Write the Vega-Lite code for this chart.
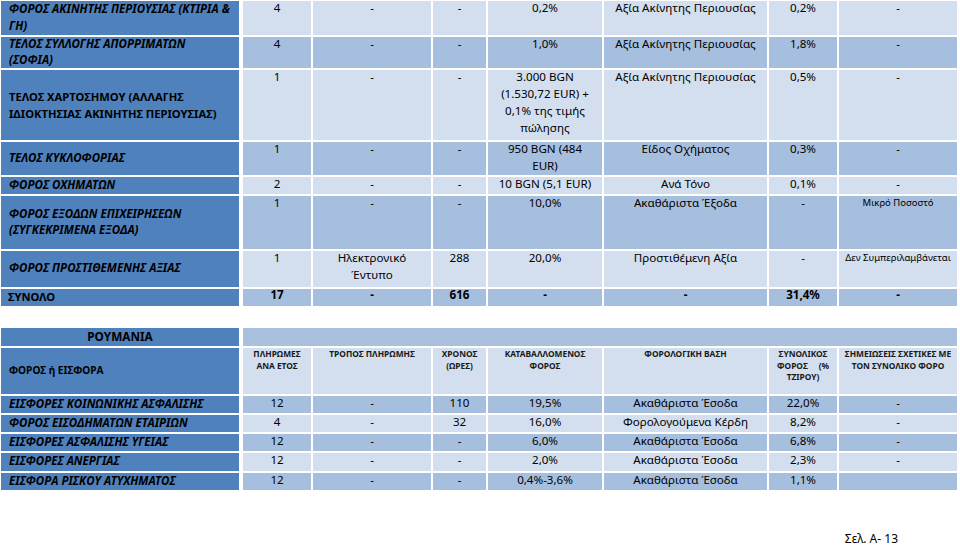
{
  "$schema": "https://vega.github.io/schema/vega-lite/v6.json",
  "width": 960,
  "height": 491,
  "autosize": {"type": "none"},
  "padding": {"left": 0, "top": 0, "right": 0, "bottom": 56},
  "background": "white",
  "config": {
    "view": {"stroke": null},
    "text": {"font": "Noto Sans", "lineBreak": "\n", "color": "#000000"}
  },
  "title": {
    "text": "Σελ. Α- 13",
    "orient": "bottom",
    "anchor": "end",
    "offset": 42,
    "dx": -62,
    "font": "Noto Sans",
    "fontSize": 12,
    "fontWeight": "normal",
    "color": "#000000"
  },
  "datasets": {
    "table": [
      {"r": 0, "label": "ΦΟΡΟΣ ΑΚΙΝΗΤΗΣ ΠΕΡΙΟΥΣΙΑΣ (ΚΤΙΡΙΑ &\nΓΗ)", "p": "4", "m": "-", "h": "-", "tax": "0,2%", "base": "Αξία Ακίνητης Περιουσίας", "total": "0,2%", "notes": "-"},
      {"r": 1, "label": "ΤΕΛΟΣ ΣΥΛΛΟΓΗΣ ΑΠΟΡΡΙΜΑΤΩΝ\n(ΣΟΦΙΑ)", "p": "4", "m": "-", "h": "-", "tax": "1,0%", "base": "Αξία Ακίνητης Περιουσίας", "total": "1,8%", "notes": "-"},
      {"r": 2, "label": "ΤΕΛΟΣ ΧΑΡΤΟΣΗΜΟΥ (ΑΛΛΑΓΗΣ\nΙΔΙΟΚΤΗΣΙΑΣ ΑΚΙΝΗΤΗΣ ΠΕΡΙΟΥΣΙΑΣ)", "p": "1", "m": "-", "h": "-", "tax": "3.000 BGN\n(1.530,72 EUR) +\n0,1% της τιμής\nπώλησης", "base": "Αξία Ακίνητης Περιουσίας", "total": "0,5%", "notes": "-"},
      {"r": 3, "label": "ΤΕΛΟΣ ΚΥΚΛΟΦΟΡΙΑΣ", "p": "1", "m": "-", "h": "-", "tax": "950 BGN (484\nEUR)", "base": "Είδος Οχήματος", "total": "0,3%", "notes": "-"},
      {"r": 4, "label": "ΦΟΡΟΣ ΟΧΗΜΑΤΩΝ", "p": "2", "m": "-", "h": "-", "tax": "10 BGN (5,1 EUR)", "base": "Ανά Τόνο", "total": "0,1%", "notes": "-"},
      {"r": 5, "label": "ΦΟΡΟΣ ΕΞΟΔΩΝ ΕΠΙΧΕΙΡΗΣΕΩΝ\n(ΣΥΓΚΕΚΡΙΜΕΝΑ ΕΞΟΔΑ)", "p": "1", "m": "-", "h": "-", "tax": "10,0%", "base": "Ακαθάριστα Έξοδα", "total": "-", "notes": "Μικρό Ποσοστό"},
      {"r": 6, "label": "ΦΟΡΟΣ ΠΡΟΣΤΙΘΕΜΕΝΗΣ ΑΞΙΑΣ", "p": "1", "m": "Ηλεκτρονικό\nΈντυπο", "h": "288", "tax": "20,0%", "base": "Προστιθέμενη Αξία", "total": "-", "notes": "Δεν Συμπεριλαμβάνεται"},
      {"r": 7, "label": "ΣΥΝΟΛΟ", "p": "17", "m": "-", "h": "616", "tax": "-", "base": "-", "total": "31,4%", "notes": "-"},
      {"r": 9, "label": "ΡΟΥΜΑΝΙΑ"},
      {"r": 10, "label": "ΦΟΡΟΣ ή ΕΙΣΦΟΡΑ", "p": "ΠΛΗΡΩΜΕΣ\nΑΝΑ ΕΤΟΣ", "m": "ΤΡΟΠΟΣ ΠΛΗΡΩΜΗΣ", "h": "ΧΡΟΝΟΣ\n(ΩΡΕΣ)", "tax": "ΚΑΤΑΒΑΛΛΟΜΕΝΟΣ\nΦΟΡΟΣ", "base": "ΦΟΡΟΛΟΓΙΚΗ ΒΑΣΗ", "total": "ΣΥΝΟΛΙΚΟΣ\nΦΟΡΟΣ\u00a0\u00a0\u00a0\u00a0\u00a0(%\nΤΖΙΡΟΥ)", "notes": "ΣΗΜΕΙΩΣΕΙΣ ΣΧΕΤΙΚΕΣ ΜΕ\nΤΟΝ ΣΥΝΟΛΙΚΟ ΦΟΡΟ"},
      {"r": 11, "label": "ΕΙΣΦΟΡΕΣ ΚΟΙΝΩΝΙΚΗΣ ΑΣΦΑΛΙΣΗΣ", "p": "12", "m": "-", "h": "110", "tax": "19,5%", "base": "Ακαθάριστα Έσοδα", "total": "22,0%", "notes": "-"},
      {"r": 12, "label": "ΦΟΡΟΣ ΕΙΣΟΔΗΜΑΤΩΝ ΕΤΑΙΡΙΩΝ", "p": "4", "m": "-", "h": "32", "tax": "16,0%", "base": "Φορολογούμενα Κέρδη", "total": "8,2%", "notes": "-"},
      {"r": 13, "label": "ΕΙΣΦΟΡΕΣ ΑΣΦΑΛΙΣΗΣ ΥΓΕΙΑΣ", "p": "12", "m": "-", "h": "-", "tax": "6,0%", "base": "Ακαθάριστα Έσοδα", "total": "6,8%", "notes": "-"},
      {"r": 14, "label": "ΕΙΣΦΟΡΕΣ ΑΝΕΡΓΙΑΣ", "p": "12", "m": "-", "h": "-", "tax": "2,0%", "base": "Ακαθάριστα Έσοδα", "total": "2,3%", "notes": "-"},
      {"r": 15, "label": "ΕΙΣΦΟΡΑ ΡΙΣΚΟΥ ΑΤΥΧΗΜΑΤΟΣ", "p": "12", "m": "-", "h": "-", "tax": "0,4%-3,6%", "base": "Ακαθάριστα Έσοδα", "total": "1,1%", "notes": ""}
    ]
  },
  "data": {"name": "table"},
  "layer": [
    {
      "transform": [{"calculate": "datum.r + 1", "as": "r2"}],
      "mark": {"type": "rect", "stroke": "white", "strokeWidth": 2},
      "encoding": {
        "x": {"datum": 0, "type": "quantitative", "axis": null, "scale": {"domain": [0,1,2,3,4,5,6,7,8,9], "range": [0,240,242,312,432,487,603,768,838,958], "zero": false, "nice": false}},
        "x2": {"datum": 1},
        "y": {"field": "r", "type": "quantitative", "axis": null, "scale": {"domain": [0,1,2,3,4,5,6,7,8,9,10,11,12,13,14,15,16], "range": [0,36,69,141,176,195,250,288,307,327,347,395,414,433,452,472,491], "zero": false, "nice": false}},
        "y2": {"field": "r2"},
        "color": {"value": "#4f81bd"}
      }
    },
    {
      "transform": [
        {"filter": "datum.r !== 9"},
        {"fold": ["p", "m", "h", "tax", "base", "total", "notes"], "as": ["key", "value"]},
        {"calculate": "indexof(['p','m','h','tax','base','total','notes'], datum.key) + 2", "as": "c"},
        {"calculate": "datum.c + 1", "as": "c2"},
        {"calculate": "datum.r + 1", "as": "r2"},
        {"calculate": "datum.r % 2 === 1 ? 'b' : 'a'", "as": "band"}
      ],
      "mark": {"type": "rect", "stroke": "white", "strokeWidth": 2},
      "encoding": {
        "x": {"field": "c", "type": "quantitative", "axis": null, "scale": {"domain": [0,1,2,3,4,5,6,7,8,9], "range": [0,240,242,312,432,487,603,768,838,958], "zero": false, "nice": false}},
        "x2": {"field": "c2"},
        "y": {"field": "r", "type": "quantitative", "axis": null, "scale": {"domain": [0,1,2,3,4,5,6,7,8,9,10,11,12,13,14,15,16], "range": [0,36,69,141,176,195,250,288,307,327,347,395,414,433,452,472,491], "zero": false, "nice": false}},
        "y2": {"field": "r2"},
        "color": {"field": "band", "type": "nominal", "legend": null, "scale": {"domain": ["a", "b"], "range": ["#d3dfee", "#a7bfde"]}}
      }
    },
    {
      "transform": [{"filter": "datum.r === 9"}, {"calculate": "datum.r + 1", "as": "r2"}],
      "mark": {"type": "rect", "stroke": "white", "strokeWidth": 2},
      "encoding": {
        "x": {"datum": 2, "type": "quantitative", "axis": null, "scale": {"domain": [0,1,2,3,4,5,6,7,8,9], "range": [0,240,242,312,432,487,603,768,838,958], "zero": false, "nice": false}},
        "x2": {"datum": 9},
        "y": {"field": "r", "type": "quantitative", "axis": null, "scale": {"domain": [0,1,2,3,4,5,6,7,8,9,10,11,12,13,14,15,16], "range": [0,36,69,141,176,195,250,288,307,327,347,395,414,433,452,472,491], "zero": false, "nice": false}},
        "y2": {"field": "r2"},
        "color": {"value": "#a9c0df"}
      }
    },
    {
      "transform": [{"filter": "indexof([0,1,3,4,5,6,11,12,13,14,15], datum.r) >= 0 && indexof(datum.label, '\\n') < 0"}, {"calculate": "datum.r + 0.5", "as": "rm"}],
      "mark": {"type": "text", "align": "left", "baseline": "middle", "dx": 9, "fontSize": 11.5, "fontWeight": "bold", "fontStyle": "italic", "lineHeight": 17},
      "encoding": {
        "x": {"datum": 0, "type": "quantitative", "axis": null, "scale": {"domain": [0,1,2,3,4,5,6,7,8,9], "range": [0,240,242,312,432,487,603,768,838,958], "zero": false, "nice": false}},
        "y": {"field": "rm", "type": "quantitative", "axis": null, "scale": {"domain": [0,1,2,3,4,5,6,7,8,9,10,11,12,13,14,15,16], "range": [0,36,69,141,176,195,250,288,307,327,347,395,414,433,452,472,491], "zero": false, "nice": false}},
        "text": {"field": "label", "type": "nominal"}
      }
    },
    {
      "transform": [{"filter": "indexof([0,1,3,4,5,6,11,12,13,14,15], datum.r) >= 0 && indexof(datum.label, '\\n') >= 0"}, {"calculate": "datum.r + 0.5", "as": "rm"}],
      "mark": {"type": "text", "align": "left", "baseline": "middle", "dx": 9, "dy": -8, "fontSize": 11.5, "fontWeight": "bold", "fontStyle": "italic", "lineHeight": 16.5},
      "encoding": {
        "x": {"datum": 0, "type": "quantitative", "axis": null, "scale": {"domain": [0,1,2,3,4,5,6,7,8,9], "range": [0,240,242,312,432,487,603,768,838,958], "zero": false, "nice": false}},
        "y": {"field": "rm", "type": "quantitative", "axis": null, "scale": {"domain": [0,1,2,3,4,5,6,7,8,9,10,11,12,13,14,15,16], "range": [0,36,69,141,176,195,250,288,307,327,347,395,414,433,452,472,491], "zero": false, "nice": false}},
        "text": {"field": "label", "type": "nominal"}
      }
    },
    {
      "transform": [{"filter": "datum.r === 2"}, {"calculate": "datum.r + 0.5", "as": "rm"}],
      "mark": {"type": "text", "align": "left", "baseline": "middle", "dx": 9, "dy": -7, "fontSize": 11.2, "fontWeight": "bold", "lineHeight": 17},
      "encoding": {
        "x": {"datum": 0, "type": "quantitative", "axis": null, "scale": {"domain": [0,1,2,3,4,5,6,7,8,9], "range": [0,240,242,312,432,487,603,768,838,958], "zero": false, "nice": false}},
        "y": {"field": "rm", "type": "quantitative", "axis": null, "scale": {"domain": [0,1,2,3,4,5,6,7,8,9,10,11,12,13,14,15,16], "range": [0,36,69,141,176,195,250,288,307,327,347,395,414,433,452,472,491], "zero": false, "nice": false}},
        "text": {"field": "label", "type": "nominal"}
      }
    },
    {
      "transform": [{"filter": "datum.r === 7"}, {"calculate": "datum.r + 0.5", "as": "rm"}],
      "mark": {"type": "text", "align": "left", "baseline": "middle", "dx": 8, "fontSize": 11.2, "fontWeight": "bold"},
      "encoding": {
        "x": {"datum": 0, "type": "quantitative", "axis": null, "scale": {"domain": [0,1,2,3,4,5,6,7,8,9], "range": [0,240,242,312,432,487,603,768,838,958], "zero": false, "nice": false}},
        "y": {"field": "rm", "type": "quantitative", "axis": null, "scale": {"domain": [0,1,2,3,4,5,6,7,8,9,10,11,12,13,14,15,16], "range": [0,36,69,141,176,195,250,288,307,327,347,395,414,433,452,472,491], "zero": false, "nice": false}},
        "text": {"field": "label", "type": "nominal"}
      }
    },
    {
      "transform": [{"filter": "datum.r === 10"}, {"calculate": "datum.r + 0.5", "as": "rm"}],
      "mark": {"type": "text", "align": "left", "baseline": "middle", "dx": 9, "fontSize": 10.1, "fontWeight": "bold"},
      "encoding": {
        "x": {"datum": 0, "type": "quantitative", "axis": null, "scale": {"domain": [0,1,2,3,4,5,6,7,8,9], "range": [0,240,242,312,432,487,603,768,838,958], "zero": false, "nice": false}},
        "y": {"field": "rm", "type": "quantitative", "axis": null, "scale": {"domain": [0,1,2,3,4,5,6,7,8,9,10,11,12,13,14,15,16], "range": [0,36,69,141,176,195,250,288,307,327,347,395,414,433,452,472,491], "zero": false, "nice": false}},
        "text": {"field": "label", "type": "nominal"}
      }
    },
    {
      "transform": [{"filter": "datum.r === 9"}, {"calculate": "datum.r + 0.5", "as": "rm"}],
      "mark": {"type": "text", "align": "center", "baseline": "middle", "fontSize": 11.8, "fontWeight": "bold"},
      "encoding": {
        "x": {"datum": 0.5, "type": "quantitative", "axis": null, "scale": {"domain": [0,1,2,3,4,5,6,7,8,9], "range": [0,240,242,312,432,487,603,768,838,958], "zero": false, "nice": false}},
        "y": {"field": "rm", "type": "quantitative", "axis": null, "scale": {"domain": [0,1,2,3,4,5,6,7,8,9,10,11,12,13,14,15,16], "range": [0,36,69,141,176,195,250,288,307,327,347,395,414,433,452,472,491], "zero": false, "nice": false}},
        "text": {"field": "label", "type": "nominal"}
      }
    },
    {
      "transform": [
        {"filter": "datum.r !== 9 && datum.r !== 10 && datum.r !== 7"},
        {"fold": ["p", "m", "h", "tax", "base", "total", "notes"], "as": ["key", "value"]},
        {"filter": "!(datum.key === 'notes' && datum.value !== '-')"},
        {"calculate": "indexof(['p','m','h','tax','base','total','notes'], datum.key) + 2.5", "as": "cm"}
      ],
      "mark": {"type": "text", "align": "center", "baseline": "top", "dy": 3, "fontSize": 11.6, "lineHeight": 17},
      "encoding": {
        "x": {"field": "cm", "type": "quantitative", "axis": null, "scale": {"domain": [0,1,2,3,4,5,6,7,8,9], "range": [0,240,242,312,432,487,603,768,838,958], "zero": false, "nice": false}},
        "y": {"field": "r", "type": "quantitative", "axis": null, "scale": {"domain": [0,1,2,3,4,5,6,7,8,9,10,11,12,13,14,15,16], "range": [0,36,69,141,176,195,250,288,307,327,347,395,414,433,452,472,491], "zero": false, "nice": false}},
        "text": {"field": "value", "type": "nominal"}
      }
    },
    {
      "transform": [
        {"filter": "datum.r === 7"},
        {"fold": ["p", "m", "h", "tax", "base", "total", "notes"], "as": ["key", "value"]},
        {"calculate": "indexof(['p','m','h','tax','base','total','notes'], datum.key) + 2.5", "as": "cm"}
      ],
      "mark": {"type": "text", "align": "center", "baseline": "top", "dy": 2, "fontSize": 11.6, "fontWeight": "bold"},
      "encoding": {
        "x": {"field": "cm", "type": "quantitative", "axis": null, "scale": {"domain": [0,1,2,3,4,5,6,7,8,9], "range": [0,240,242,312,432,487,603,768,838,958], "zero": false, "nice": false}},
        "y": {"field": "r", "type": "quantitative", "axis": null, "scale": {"domain": [0,1,2,3,4,5,6,7,8,9,10,11,12,13,14,15,16], "range": [0,36,69,141,176,195,250,288,307,327,347,395,414,433,452,472,491], "zero": false, "nice": false}},
        "text": {"field": "value", "type": "nominal"}
      }
    },
    {
      "transform": [
        {"filter": "datum.r !== 9 && datum.r !== 10"},
        {"fold": ["notes"], "as": ["key", "value"]},
        {"filter": "datum.value !== '-' && datum.value !== ''"},
        {"calculate": "8.5", "as": "cm"}
      ],
      "mark": {"type": "text", "align": "center", "baseline": "top", "dy": 3, "fontSize": 9.5},
      "encoding": {
        "x": {"field": "cm", "type": "quantitative", "axis": null, "scale": {"domain": [0,1,2,3,4,5,6,7,8,9], "range": [0,240,242,312,432,487,603,768,838,958], "zero": false, "nice": false}},
        "y": {"field": "r", "type": "quantitative", "axis": null, "scale": {"domain": [0,1,2,3,4,5,6,7,8,9,10,11,12,13,14,15,16], "range": [0,36,69,141,176,195,250,288,307,327,347,395,414,433,452,472,491], "zero": false, "nice": false}},
        "text": {"field": "value", "type": "nominal"}
      }
    },
    {
      "transform": [
        {"filter": "datum.r === 10"},
        {"fold": ["p", "m", "h", "tax", "base", "total", "notes"], "as": ["key", "value"]},
        {"calculate": "indexof(['p','m','h','tax','base','total','notes'], datum.key) + 2.5", "as": "cm"}
      ],
      "mark": {"type": "text", "align": "center", "baseline": "top", "dy": 3, "fontSize": 8.4, "fontWeight": "bold", "lineHeight": 11.5, "color": "#1a1a1a"},
      "encoding": {
        "x": {"field": "cm", "type": "quantitative", "axis": null, "scale": {"domain": [0,1,2,3,4,5,6,7,8,9], "range": [0,240,242,312,432,487,603,768,838,958], "zero": false, "nice": false}},
        "y": {"field": "r", "type": "quantitative", "axis": null, "scale": {"domain": [0,1,2,3,4,5,6,7,8,9,10,11,12,13,14,15,16], "range": [0,36,69,141,176,195,250,288,307,327,347,395,414,433,452,472,491], "zero": false, "nice": false}},
        "text": {"field": "value", "type": "nominal"}
      }
    }
  ]
}
